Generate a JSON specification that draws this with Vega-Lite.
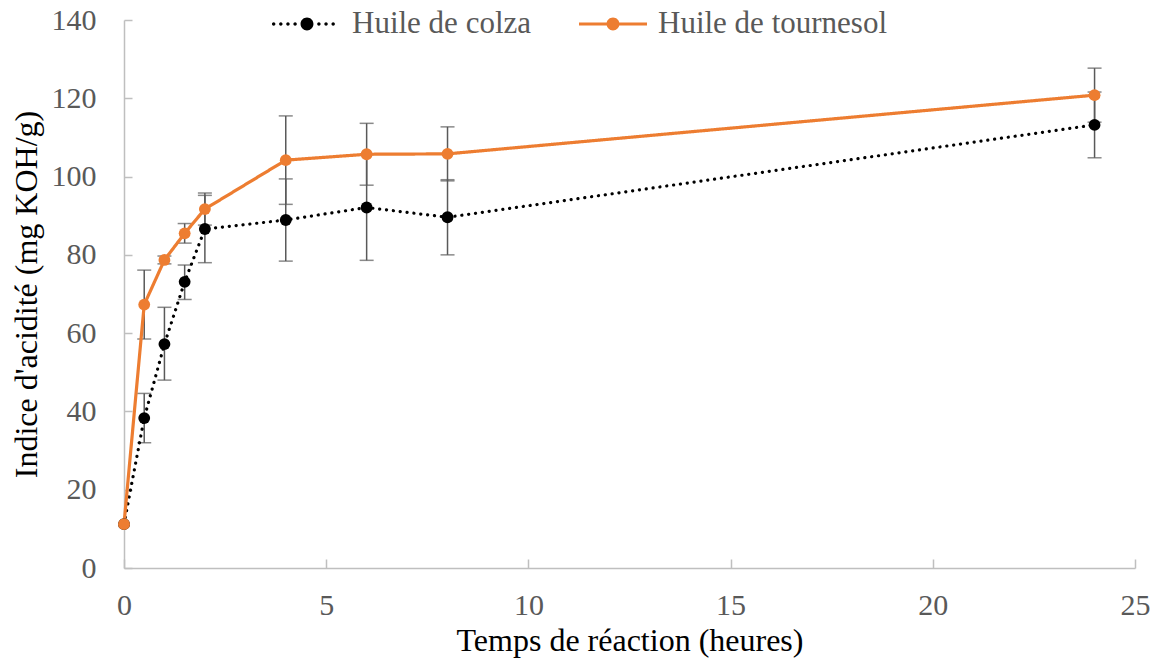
{
  "$schema": "https://vega.github.io/schema/vega-lite/v6.json",
  "autosize": "none",
  "width": 1011,
  "height": 548,
  "padding": {"left": 124, "top": 20, "right": 21, "bottom": 94},
  "background": "white",
  "config": {
    "view": {"stroke": null},
    "font": "Liberation Serif",
    "style": {
      "guide-label": {"font": "Liberation Serif"},
      "guide-title": {"font": "Liberation Serif"}
    },
    "axis": {
      "labelFont": "Liberation Serif",
      "titleFont": "Liberation Serif",
      "labelFontSize": 30,
      "titleFontSize": 32,
      "labelColor": "#595959",
      "titleColor": "#000000",
      "titleFontWeight": "normal",
      "domainColor": "#bfbfbf",
      "domainWidth": 1.5,
      "tickColor": "#bfbfbf",
      "tickWidth": 1.5,
      "grid": false,
      "labelFlush": false
    },
    "legend": {
      "labelFont": "Liberation Serif",
      "labelFontSize": 31,
      "labelColor": "#595959"
    }
  },
  "data": {
    "values": [
      {"serie": "Huile de colza", "t": 0, "v": 11.2, "lo": null, "hi": null},
      {"serie": "Huile de colza", "t": 0.5, "v": 38.3, "lo": 32.0, "hi": 44.6},
      {"serie": "Huile de colza", "t": 1, "v": 57.2, "lo": 48.0, "hi": 66.6},
      {"serie": "Huile de colza", "t": 1.5, "v": 73.1, "lo": 68.6, "hi": 77.4},
      {"serie": "Huile de colza", "t": 2, "v": 86.6, "lo": 78.0, "hi": 95.2},
      {"serie": "Huile de colza", "t": 4, "v": 88.9, "lo": 78.4, "hi": 99.4},
      {"serie": "Huile de colza", "t": 6, "v": 92.1, "lo": 78.6, "hi": 105.6},
      {"serie": "Huile de colza", "t": 8, "v": 89.6, "lo": 80.0, "hi": 99.2},
      {"serie": "Huile de colza", "t": 24, "v": 113.2, "lo": 104.8, "hi": 121.6},
      {"serie": "Huile de tournesol", "t": 0, "v": 11.2, "lo": null, "hi": null},
      {"serie": "Huile de tournesol", "t": 0.5, "v": 67.3, "lo": 58.5, "hi": 76.1},
      {"serie": "Huile de tournesol", "t": 1, "v": 78.7, "lo": 77.7, "hi": 79.7},
      {"serie": "Huile de tournesol", "t": 1.5, "v": 85.5, "lo": 83.0, "hi": 88.0},
      {"serie": "Huile de tournesol", "t": 2, "v": 91.7, "lo": 87.6, "hi": 95.8},
      {"serie": "Huile de tournesol", "t": 4, "v": 104.2, "lo": 92.9, "hi": 115.5},
      {"serie": "Huile de tournesol", "t": 6, "v": 105.7, "lo": 97.8, "hi": 113.6},
      {"serie": "Huile de tournesol", "t": 8, "v": 105.8, "lo": 98.9, "hi": 112.7},
      {"serie": "Huile de tournesol", "t": 24, "v": 120.8, "lo": 113.9, "hi": 127.7}
    ]
  },
  "encoding": {
    "x": {
      "field": "t",
      "type": "quantitative",
      "scale": {"domain": [0, 25], "nice": false},
      "axis": {
        "values": [0, 5, 10, 15, 20, 25],
        "title": "Temps de réaction (heures)",
        "labelFont": "Liberation Serif",
        "titleFont": "Liberation Serif",
        "labelFlush": false,
        "tickSize": -9,
        "labelPadding": 31,
        "titlePadding": 5,
        "encode": {"labels": {"update": {"font": {"value": "Liberation Serif"}}}}
      }
    },
    "y": {
      "field": "v",
      "type": "quantitative",
      "scale": {"domain": [0, 140], "nice": false},
      "axis": {
        "values": [0, 20, 40, 60, 80, 100, 120, 140],
        "title": "Indice d'acidité (mg KOH/g)",
        "labelFont": "Liberation Serif",
        "titleFont": "Liberation Serif",
        "labelFlush": false,
        "tickSize": -8,
        "labelPadding": 36,
        "titlePadding": 8,
        "encode": {"labels": {"update": {"font": {"value": "Liberation Serif"}}}}
      }
    }
  },
  "layer": [
    {
      "transform": [{"filter": "datum.lo != null"}],
      "mark": {"type": "rule", "color": "#595959", "strokeWidth": 1.5},
      "encoding": {
        "y": {"field": "lo", "type": "quantitative"},
        "y2": {"field": "hi"}
      }
    },
    {
      "transform": [{"filter": "datum.lo != null"}],
      "mark": {"type": "tick", "orient": "horizontal", "color": "#595959", "size": 14, "thickness": 1.5},
      "encoding": {"y": {"field": "lo", "type": "quantitative"}}
    },
    {
      "transform": [{"filter": "datum.lo != null"}],
      "mark": {"type": "tick", "orient": "horizontal", "color": "#595959", "size": 14, "thickness": 1.5},
      "encoding": {"y": {"field": "hi", "type": "quantitative"}}
    },
    {
      "mark": {"type": "line", "strokeWidth": 3.2, "strokeCap": "round"},
      "encoding": {
        "color": {
          "field": "serie",
          "type": "nominal",
          "scale": {"domain": ["Huile de colza", "Huile de tournesol"], "range": ["#000000", "#ED7D31"]},
          "legend": {
            "title": null,
            "orient": "none",
            "legendX": 149,
            "legendY": -30,
            "direction": "horizontal",
            "symbolSize": 4624,
            "labelOffset": 11,
            "columnPadding": 47,
            "labelLimit": 500,
            "labelFont": "Liberation Serif",
            "labelFontSize": 31,
            "labelColor": "#595959",
            "encode": {
              "labels": {"update": {"font": {"value": "Liberation Serif"}}},
              "symbols": {
                "update": {
                  "shape": {"signal": "datum.value == 'Huile de colza' ? 'M-1.03,0a0.05,0.05 0 1,1 0.1,0a0.05,0.05 0 1,1 -0.1,0M-0.82,0a0.05,0.05 0 1,1 0.1,0a0.05,0.05 0 1,1 -0.1,0M-0.61,0a0.05,0.05 0 1,1 0.1,0a0.05,0.05 0 1,1 -0.1,0M-0.40,0a0.05,0.05 0 1,1 0.1,0a0.05,0.05 0 1,1 -0.1,0M-0.19,0a0.19,0.19 0 1,1 0.38,0a0.19,0.19 0 1,1 -0.38,0M0.30,0a0.05,0.05 0 1,1 0.1,0a0.05,0.05 0 1,1 -0.1,0M0.51,0a0.05,0.05 0 1,1 0.1,0a0.05,0.05 0 1,1 -0.1,0M0.72,0a0.05,0.05 0 1,1 0.1,0a0.05,0.05 0 1,1 -0.1,0' : 'M-1,-0.045H1V0.045H-1ZM-0.19,0a0.19,0.19 0 1,1 0.38,0a0.19,0.19 0 1,1 -0.38,0'"},
                  "fill": {"scale": "color", "field": "value"},
                  "fillOpacity": {"value": 1},
                  "strokeWidth": {"value": 0},
                  "strokeOpacity": {"value": 0}
                }
              }
            }
          }
        },
        "strokeDash": {
          "field": "serie",
          "type": "nominal",
          "scale": {"domain": ["Huile de colza", "Huile de tournesol"], "range": [[0.1, 6.8], [1, 0]]},
          "legend": null
        }
      }
    },
    {
      "mark": {"type": "point", "filled": true, "opacity": 1, "size": 140},
      "encoding": {
        "color": {"field": "serie", "type": "nominal", "legend": null}
      }
    }
  ]
}
